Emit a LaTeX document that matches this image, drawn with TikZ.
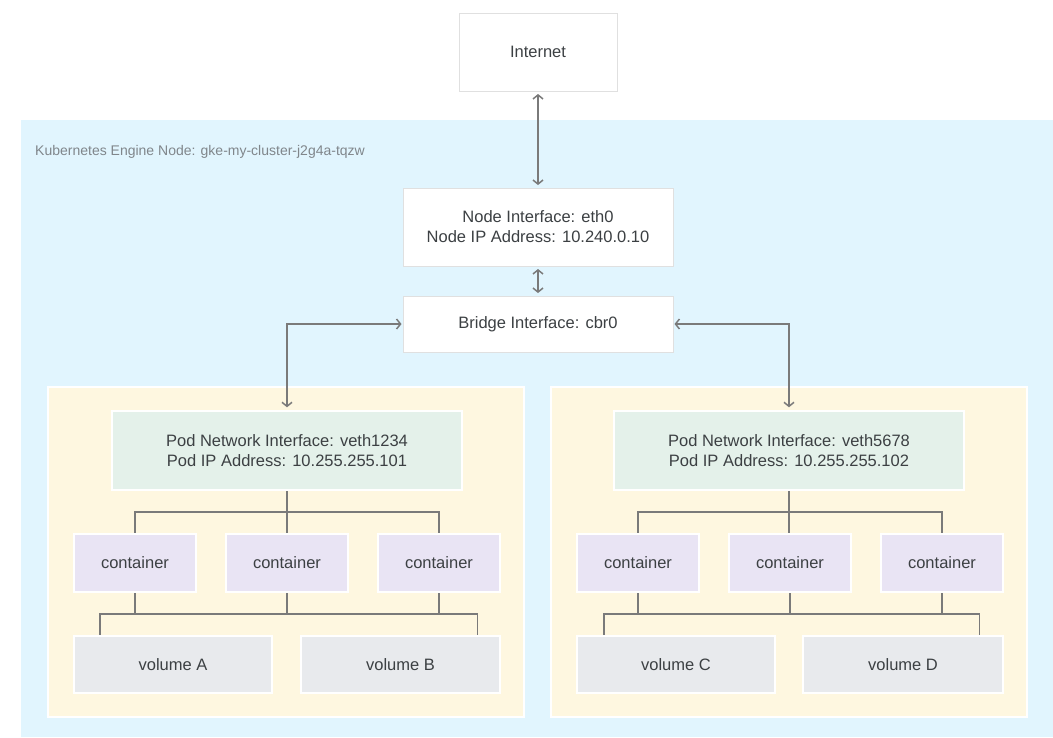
\documentclass[tikz,border=0pt]{standalone}
\usepackage{fontspec}
\setmainfont{Liberation Sans}
\usetikzlibrary{arrows.meta,calc}
\definecolor{bgblue}{HTML}{E1F5FE}
\definecolor{podyellow}{HTML}{FEF7E0}
\definecolor{ifgreen}{HTML}{E4F1EA}
\definecolor{cpurple}{HTML}{E9E4F4}
\definecolor{vgray}{HTML}{E8EAED}
\definecolor{txt}{HTML}{3C4043}
\definecolor{lbl}{HTML}{80868B}
\definecolor{wire}{HTML}{7A7A7A}
\definecolor{wbord}{HTML}{E0E0E0}
\tikzset{
  basebox/.style={rectangle, inner sep=0pt, text=txt, align=center,
    font=\fontsize{16.5}{20}\selectfont},
  whitebox/.style={basebox, fill=white, draw=wbord, line width=1pt},
  colbox/.style={basebox, draw=white, line width=2.5pt},
  podbox/.style={fill=podyellow, draw=white, line width=2.5pt},
  ifbox/.style={colbox, fill=ifgreen, minimum width=350pt, minimum height=79pt},
  contbox/.style={colbox, fill=cpurple, minimum width=122pt, minimum height=58pt},
  volbox/.style={colbox, fill=vgray, minimum height=57pt},
  wireline/.style={draw=wire, line width=1.5pt},
  dblarrow/.style={wireline, {Straight Barb[length=4pt,width=10pt]}-{Straight Barb[length=4pt,width=10pt]}, shorten <=2.5pt, shorten >=2.5pt}
}
\begin{document}
\begin{tikzpicture}[x=1pt,y=-1pt]
\useasboundingbox (0,0) rectangle (1053,737);
% background region
\fill[bgblue] (21,120) rectangle (1053,737);
\node[anchor=west, text=lbl, font=\fontsize{14}{16}\selectfont, inner sep=0pt] (klabel) at (35,152) {Kubernetes Engine Node: gke-my-cluster-j2g4a-tqzw};

% pods
\path[podbox] (48,387) rectangle (524,717);
\path[podbox] (551,387) rectangle (1027,717);

% top boxes
\node[whitebox, minimum width=158pt, minimum height=78pt] (inet) at (538,52) {Internet};
\node[whitebox, minimum width=270pt, minimum height=78pt] (nodeif) at (538,227) {Node Interface: eth0\\Node IP Address: 10.240.0.10};
\node[whitebox, minimum width=270pt, minimum height=56pt] (bridge) at (538,324) {Bridge Interface: cbr0};

% left pod
\node[ifbox] (pi1) at (287,450.5) {Pod Network Interface: veth1234\\Pod IP Address: 10.255.255.101};
\node[contbox] (c11) at (135,563) {container};
\node[contbox] (c12) at (287,563) {container};
\node[contbox] (c13) at (439,563) {container};
\node[volbox, minimum width=198pt] (vA) at (173,664.5) {volume A};
\node[volbox, minimum width=199pt] (vB) at (400.5,664.5) {volume B};

% right pod
\node[ifbox] (pi2) at (789,450.5) {Pod Network Interface: veth5678\\Pod IP Address: 10.255.255.102};
\node[contbox] (c21) at (638,563) {container};
\node[contbox] (c22) at (790,563) {container};
\node[contbox] (c23) at (942,563) {container};
\node[volbox, minimum width=198pt] (vC) at (676,664.5) {volume C};
\node[volbox, minimum width=200pt] (vD) at (903,664.5) {volume D};

% arrows
\draw[dblarrow] (inet.south) -- (nodeif.north);
\draw[dblarrow] (nodeif.south) -- (bridge.north);
\draw[dblarrow, shorten <=1pt] (bridge.west) -| (pi1.north);
\draw[dblarrow, shorten <=1pt] (bridge.east) -| (pi2.north);

% left pod wiring
\coordinate (b1) at ($(pi1.south)!0.5!(c12.north)$);
\draw[wireline] (pi1.south) -- (c12.north);
\draw[wireline] (c11.north) |- (b1) -| (c13.north);
\coordinate (vb1) at ($(c12.south)!0.5!(vA.north)$);
\coordinate (va1) at ([xshift=27pt]vA.north west);
\coordinate (vb1e) at ([xshift=-24pt]vB.north east);
\draw[wireline] (va1) |- (vb1) -| (vb1e);
\draw[wireline] (c11.south) -- (c11.south |- vb1);
\draw[wireline] (c12.south) -- (c12.south |- vb1);
\draw[wireline] (c13.south) -- (c13.south |- vb1);

% right pod wiring
\coordinate (b2) at ($(pi2.south)!0.5!(c22.north)$);
\draw[wireline] (pi2.south) -- (pi2.south |- c22.north);
\draw[wireline] (c21.north) |- (b2) -| (c23.north);
\coordinate (vb2) at ($(c22.south)!0.5!(vC.north)$);
\coordinate (vc1) at ([xshift=28pt]vC.north west);
\coordinate (vd1e) at ([xshift=-25pt]vD.north east);
\draw[wireline] (vc1) |- (vb2) -| (vd1e);
\draw[wireline] (c21.south) -- (c21.south |- vb2);
\draw[wireline] (c22.south) -- (c22.south |- vb2);
\draw[wireline] (c23.south) -- (c23.south |- vb2);
\end{tikzpicture}
\end{document}
